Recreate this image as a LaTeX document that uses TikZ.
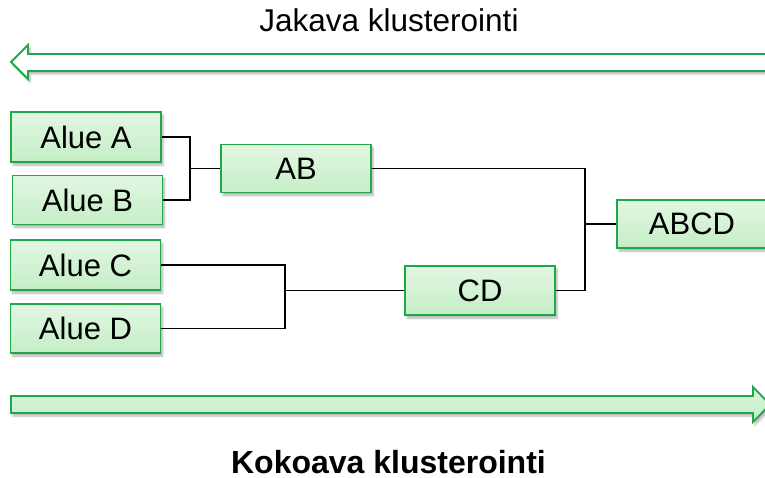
\documentclass[tikz,border=0pt]{standalone}
\usepackage{fontspec}
\setmainfont{Liberation Sans}
\usetikzlibrary{shadows.blur}
\definecolor{boxline}{RGB}{30,168,72}
\definecolor{boxtop}{RGB}{226,247,226}
\definecolor{boxbot}{RGB}{196,238,198}
\tikzset{
  clbox/.style={draw=boxline, line width=1.8pt, top color=boxtop, bottom color=boxbot,
    minimum width=150pt, minimum height=49pt, inner sep=0pt,
    font=\fontsize{31}{34}\selectfont,
    blur shadow={shadow xshift=2pt, shadow yshift=-3pt, shadow blur steps=6, shadow opacity=30}},
  link/.style={draw=black, line width=1.9pt},
  bigarrow/.style={draw=boxline, line width=1.8pt, line join=miter,
    blur shadow={shadow xshift=2pt, shadow yshift=-3pt, shadow blur steps=6, shadow opacity=30}}
}
\begin{document}
\begin{tikzpicture}[x=1pt,y=-1pt]
\useasboundingbox (0,0) rectangle (765,478);

% direction arrows
\path[bigarrow, fill=white]
  (780,54) -- (28,54) -- (28,45) -- (11,62) -- (28,79) -- (28,71) -- (780,71);
\path[bigarrow, top color=boxtop!70!boxbot, bottom color=boxbot]
  (11,396) -- (753,396) -- (753,387) -- (770,404.5) -- (753,422) -- (753,413) -- (11,413) -- cycle;

\node[font=\fontsize{31.5}{34}\selectfont, inner sep=0pt, anchor=base] (top) at (389,32) {Jakava klusterointi};
\node[font=\fontsize{32}{34}\selectfont\bfseries, inner sep=0pt, anchor=base] (bottom) at (388.5,473.5) {Kokoava klusterointi};

% cluster boxes
\node[clbox, minimum height=50pt] (A) at (86,137) {Alue A};
\node[clbox] (B) at (87.5,200) {Alue B};
\node[clbox, minimum height=50pt] (C) at (85.5,265) {Alue C};
\node[clbox] (D) at (85.5,328.5) {Alue D};
\node[clbox, minimum height=48pt] (AB) at (296,168.5) {AB};
\node[clbox] (CD) at (480,290.5) {CD};
\node[clbox, minimum height=48pt] (ABCD) at (692,224) {ABCD};

% merge points
\coordinate (jab) at (190,168.5);
\coordinate (jcd) at (285,290.5);
\coordinate (jall) at (585,224);

\draw[link] (A.east) -| (jab) |- (B.east);
\draw[link] (jab) -- (AB.west);
\draw[link] (C.east) -| (jcd) |- (D.east);
\draw[link] (jcd) -- (CD.west);
\draw[link] (AB.east) -| (jall) |- (CD.east);
\draw[link] (jall) -- (ABCD.west);
\end{tikzpicture}
\end{document}
